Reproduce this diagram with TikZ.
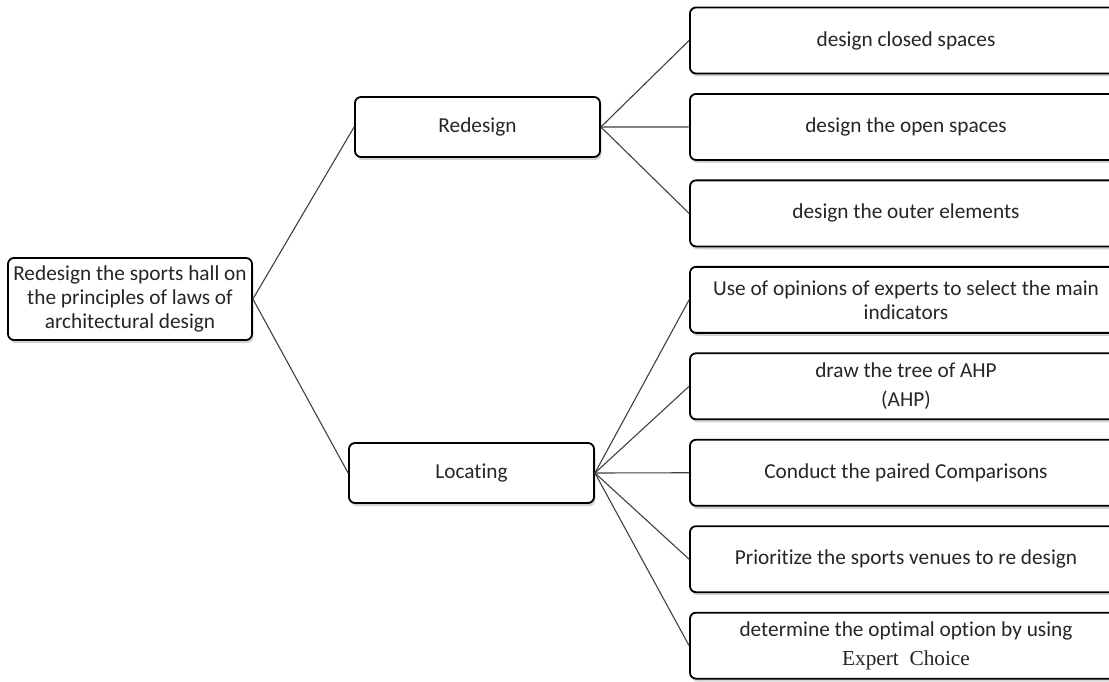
\documentclass[tikz,border=0pt]{standalone}
\usepackage{fontspec}
\setmainfont{Carlito}[Ligatures=NoCommon]
\newfontfamily\ecfont{Liberation Serif}
\usetikzlibrary{shadows}

\begin{document}
\begin{tikzpicture}[x=1pt, y=1pt, node distance=86.45pt,
  box/.style={shape=rectangle, draw=black, line width=1.8pt, rounded corners=6pt, fill=white,
    align=center, text=black!85, font=\fontsize{21.3}{24}\selectfont,
    drop shadow={shadow xshift=1.5pt, shadow yshift=-3pt, opacity=0.35}},
  mid/.style={box, minimum width=245pt, minimum height=60pt},
  leaf/.style={box, minimum width=432pt, minimum height=66pt},
  link/.style={line width=1.1pt, draw=black!75}]
\useasboundingbox (0,0) rectangle (1109,-682);

\node [box, minimum width=244pt, minimum height=82pt, inner sep=1pt] (N0) at (130,-299) {Redesign the sports hall on\\the principles of laws of\\architectural design};
\node [mid] (N1) at (477.5,-127) {Redesign};
\node [mid] (N2) at (471.5,-473) {Locating};

\node [leaf] (N3) at (906,-40.5) {design closed spaces};
\node [leaf, below of=N3] (N4) {design the open spaces};
\node [leaf, below of=N4] (N5) {design the outer elements};
\node [leaf, below of=N5] (N6) {Use of opinions of experts to select the main\\indicators};
\node [leaf, below of=N6] (N7) {draw the tree of AHP\\[5pt](AHP)};
\node [leaf, below of=N7] (N8) {Conduct the paired Comparisons};
\node [leaf, below of=N8] (N9) {Prioritize the sports venues to re design};
\node [leaf, below of=N9] (N10) {determine the optimal option by using\\[5pt]{\ecfont Expert\ \ Choice}};

\draw [link] (N0.east) -- (N1.west);
\draw [link] (N0.east) -- (N2.west);
\draw [link] (N1.east) -- (N3.west);
\draw [link] (N1.east) -- (N4.west);
\draw [link] (N1.east) -- (N5.west);
\draw [link] (N2.east) -- (N6.west);
\draw [link] (N2.east) -- (N7.west);
\draw [link] (N2.east) -- (N8.west);
\draw [link] (N2.east) -- (N9.west);
\draw [link] (N2.east) -- (N10.west);
\end{tikzpicture}
\end{document}
